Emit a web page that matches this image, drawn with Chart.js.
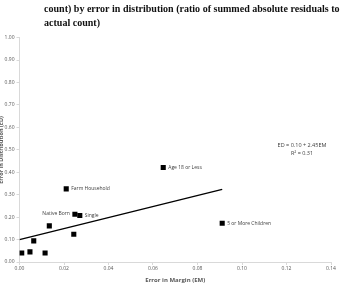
<!DOCTYPE html>
<html>
<head>
<meta charset="utf-8">
<script src="https://cdn.jsdelivr.net/npm/chart.js@4"></script>
<style>
  html, body { margin: 0; padding: 0; background: #fff; }
  #wrap { width: 345px; height: 284px; position: relative; }
</style>
</head>
<body>
<div id="wrap"><canvas id="chart" width="345" height="284"></canvas></div>
<script>
// data
const emValues = [0.001, 0.0047, 0.0064, 0.0115, 0.0134, 0.021, 0.0249, 0.0271, 0.0244, 0.0646, 0.0911];
const edValues = [0.040, 0.045, 0.094, 0.040, 0.161, 0.326, 0.213, 0.207, 0.124, 0.421, 0.173];
const pointLabels = ["", "", "", "", "", "Farm Household", "Native Born", "Single", "", "Age 18 or Less", "5 or More Children"];
const trendX = [0, 0.0911];
const trendIntercept = 0.10;
const trendSlope = 2.45;
const xTicks = [0, 0.02, 0.04, 0.06, 0.08, 0.10, 0.12, 0.14];
const yTicks = [0, 0.1, 0.2, 0.3, 0.4, 0.5, 0.6, 0.7, 0.8, 0.9, 1.0];
const titleLines = [
  "count) by error in distribution (ratio of summed absolute residuals to",
  "actual count)"
];
const equationLines = ["ED = 0.10 + 2.45EM", "R\u00b2 = 0.31"];

const scatterData = emValues.map((x, i) => ({ x: x, y: edValues[i] }));
const trendData = trendX.map((x) => ({ x: x, y: trendIntercept + trendSlope * x }));

// title, point labels and equation
const extrasPlugin = {
  id: "extras",
  afterDraw(chart) {
    const ctx = chart.ctx;
    ctx.save();
    ctx.fillStyle = "#111";
    // fit the first title line into ~296px like the reference
    let size = 11;
    ctx.font = "bold " + size + "px 'Liberation Serif', 'DejaVu Serif', serif";
    const w = ctx.measureText(titleLines[0]).width;
    size = size * 296 / w;
    ctx.font = "bold " + size + "px 'Liberation Serif', 'DejaVu Serif', serif";
    ctx.textBaseline = "middle";
    ctx.textAlign = "left";
    ctx.fillText(titleLines[0], 44, 9);
    ctx.fillText(titleLines[1], 44, 23);

    const meta = chart.getDatasetMeta(0);
    ctx.font = "5px 'Open Sans', 'Liberation Sans', sans-serif";
    ctx.fillStyle = "#404040";
    meta.data.forEach((pt, i) => {
      const label = pointLabels[i];
      if (!label) return;
      if (label === "Native Born") {
        ctx.textAlign = "right";
        ctx.fillText(label, pt.x - 5, pt.y - 1);
      } else {
        ctx.textAlign = "left";
        ctx.fillText(label, pt.x + 5, pt.y);
      }
    });

    ctx.textAlign = "center";
    ctx.font = "5.5px 'Open Sans', 'Liberation Sans', sans-serif";
    ctx.fillText(equationLines[0], 302, 145);
    ctx.fillText(equationLines[1], 302, 153);

    // y axis title, partly cut at the left edge as in the reference
    ctx.translate(1.5, 150);
    ctx.rotate(-Math.PI / 2);
    ctx.font = "bold 5.5px 'Open Sans', 'Liberation Sans', sans-serif";
    ctx.fillStyle = "#595959";
    ctx.fillText("Error in Distribution (ED)", 0, 0);
    ctx.restore();
  },
};

new Chart(document.getElementById("chart"), {
  type: "scatter",
  data: {
    datasets: [
      {
        data: scatterData,
        pointStyle: "rect",
        pointRadius: 3.6,
        backgroundColor: "#000",
        borderColor: "#000",
        borderWidth: 0,
      },
      {
        type: "line",
        data: trendData,
        borderColor: "#000",
        borderWidth: 1.3,
        pointRadius: 0,
        fill: false,
      },
    ],
  },
  options: {
    responsive: false,
    animation: false,
    layout: { padding: { left: 0, right: 14, top: 37.6, bottom: 0 } },
    plugins: { legend: { display: false }, tooltip: { enabled: false } },
    scales: {
      x: {
        type: "linear",
        min: 0,
        max: 0.14,
        afterBuildTicks: (axis) => { axis.ticks = xTicks.map((v) => ({ value: v })); },
        afterFit: (axis) => { axis.height = 22; },
        grid: { drawOnChartArea: false, color: "#d9d9d9", tickLength: 3 },
        border: { color: "#d9d9d9" },
        ticks: {
          font: { size: 5, family: "'Open Sans', 'Liberation Sans', sans-serif" },
          color: "#595959",
          padding: 1,
          maxRotation: 0,
          callback: (v) => v.toFixed(2),
        },
        title: {
          display: true,
          text: "Error in Margin (EM)",
          font: { size: 6, weight: "bold", family: "'Open Sans', 'Liberation Sans', sans-serif" },
          color: "#595959",
          padding: { top: 2, bottom: 0 },
        },
      },
      y: {
        type: "linear",
        min: 0,
        max: 1,
        afterBuildTicks: (axis) => { axis.ticks = yTicks.map((v) => ({ value: v })); },
        afterFit: (axis) => { axis.width = 19.5; },
        grid: { drawOnChartArea: false, color: "#d9d9d9", tickLength: 3 },
        border: { color: "#d9d9d9" },
        ticks: {
          font: { size: 5, family: "'Open Sans', 'Liberation Sans', sans-serif" },
          color: "#595959",
          padding: 2,
          callback: (v) => v.toFixed(2),
        },
      },
    },
  },
  plugins: [extrasPlugin],
});
</script>
</body>
</html>
